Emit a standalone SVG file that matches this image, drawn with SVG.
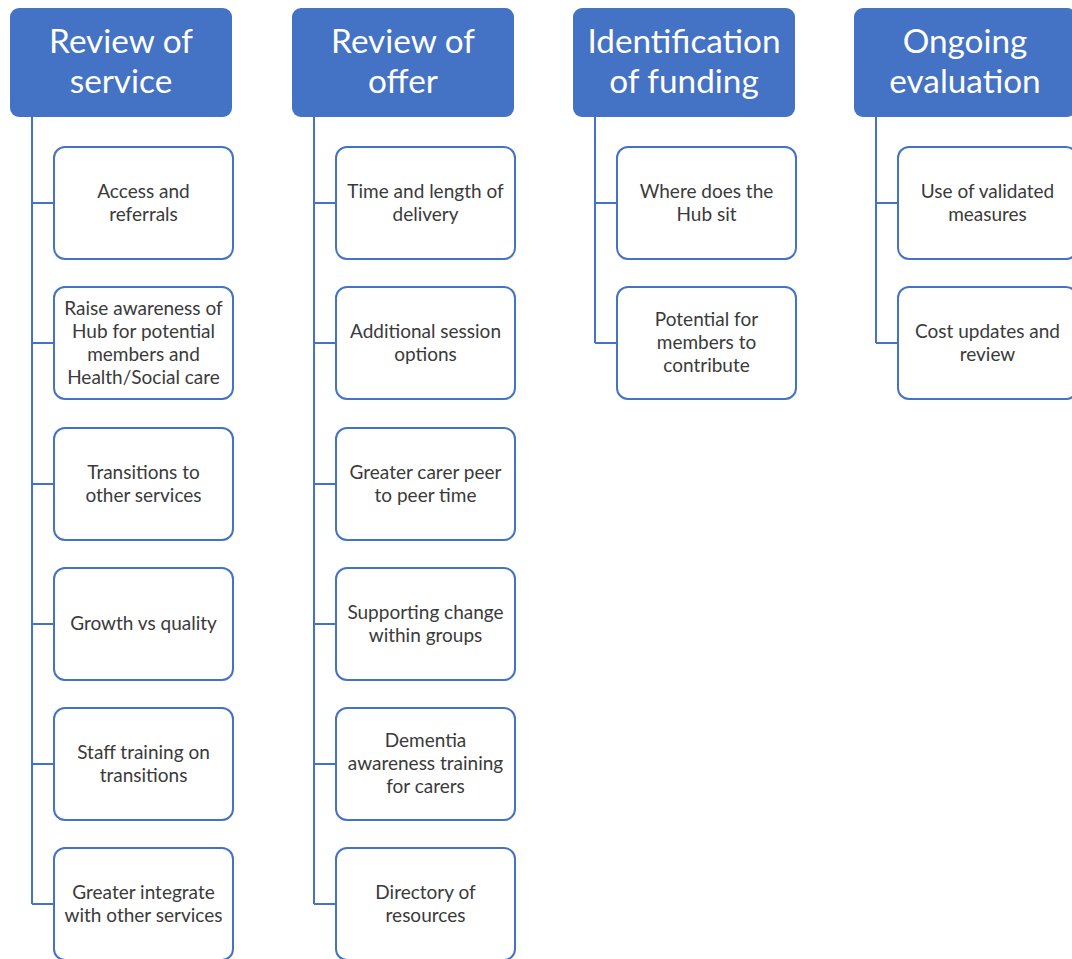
<svg xmlns="http://www.w3.org/2000/svg" width="1072" height="959" viewBox="0 0 1072 959">
<style>
.hdr{fill:#4472C4;}
.ht{font-family:Lato,"Open Sans","Liberation Sans",sans-serif;font-size:33.3px;fill:#ffffff;text-anchor:middle;}
.box{fill:#ffffff;stroke:#4472C4;stroke-width:2;}
.bt{font-family:Lato,"Open Sans","Liberation Sans",sans-serif;font-size:19px;fill:#3a3a3a;text-anchor:middle;}
.con{fill:none;stroke:#4472C4;stroke-width:2;}
</style>
<rect width="1072" height="959" fill="#ffffff"/>
<g id="connectors">
<path class="con" d="M32,117 V904 M32,203 H54 M32,343 H54 M32,484 H54 M32,624 H54 M32,764 H54 M32,904 H54"/>
<path class="con" d="M314,117 V904 M314,203 H336 M314,343 H336 M314,484 H336 M314,624 H336 M314,764 H336 M314,904 H336"/>
<path class="con" d="M595,117 V343 M595,203 H617 M595,343 H617"/>
<path class="con" d="M876,117 V343 M876,203 H898 M876,343 H898"/>
</g>
<g id="h1"><rect class="hdr" x="10" y="8" width="222" height="109" rx="9"/><text class="ht" x="121" y="53">Review of</text><text class="ht" x="121" y="93">service</text></g>
<g id="h2"><rect class="hdr" x="292" y="8" width="222" height="109" rx="9"/><text class="ht" x="403" y="53">Review of</text><text class="ht" x="403" y="93">offer</text></g>
<g id="h3"><rect class="hdr" x="573" y="8" width="222" height="109" rx="9"/><text class="ht" x="684" y="53">Identification</text><text class="ht" x="684" y="93">of funding</text></g>
<g id="h4"><rect class="hdr" x="854" y="8" width="222" height="109" rx="9"/><text class="ht" x="965" y="53">Ongoing</text><text class="ht" x="965" y="93">evaluation</text></g>

<g id="c1n1"><rect class="box" x="54" y="147" width="179" height="112" rx="11"/><text class="bt" x="143.5" y="198">Access and</text><text class="bt" x="143.5" y="221">referrals</text></g>
<g id="c1n2"><rect class="box" x="54" y="287" width="179" height="112" rx="11"/><text class="bt" x="143.5" y="315">Raise awareness of</text><text class="bt" x="143.5" y="338">Hub for potential</text><text class="bt" x="143.5" y="361">members and</text><text class="bt" x="143.5" y="384">Health/Social care</text></g>
<g id="c1n3"><rect class="box" x="54" y="428" width="179" height="112" rx="11"/><text class="bt" x="143.5" y="479">Transitions to</text><text class="bt" x="143.5" y="502">other services</text></g>
<g id="c1n4"><rect class="box" x="54" y="568" width="179" height="112" rx="11"/><text class="bt" x="143.5" y="630">Growth vs quality</text></g>
<g id="c1n5"><rect class="box" x="54" y="708" width="179" height="112" rx="11"/><text class="bt" x="143.5" y="759">Staff training on</text><text class="bt" x="143.5" y="782">transitions</text></g>
<g id="c1n6"><rect class="box" x="54" y="848" width="179" height="112" rx="11"/><text class="bt" x="143.5" y="899">Greater integrate</text><text class="bt" x="143.5" y="922">with other services</text></g>

<g id="c2n1"><rect class="box" x="336" y="147" width="179" height="112" rx="11"/><text class="bt" x="425.5" y="198">Time and length of</text><text class="bt" x="425.5" y="221">delivery</text></g>
<g id="c2n2"><rect class="box" x="336" y="287" width="179" height="112" rx="11"/><text class="bt" x="425.5" y="338">Additional session</text><text class="bt" x="425.5" y="361">options</text></g>
<g id="c2n3"><rect class="box" x="336" y="428" width="179" height="112" rx="11"/><text class="bt" x="425.5" y="479">Greater carer peer</text><text class="bt" x="425.5" y="502">to peer time</text></g>
<g id="c2n4"><rect class="box" x="336" y="568" width="179" height="112" rx="11"/><text class="bt" x="425.5" y="619">Supporting change</text><text class="bt" x="425.5" y="642">within groups</text></g>
<g id="c2n5"><rect class="box" x="336" y="708" width="179" height="112" rx="11"/><text class="bt" x="425.5" y="747">Dementia</text><text class="bt" x="425.5" y="770">awareness training</text><text class="bt" x="425.5" y="793">for carers</text></g>
<g id="c2n6"><rect class="box" x="336" y="848" width="179" height="112" rx="11"/><text class="bt" x="425.5" y="899">Directory of</text><text class="bt" x="425.5" y="922">resources</text></g>

<g id="c3n1"><rect class="box" x="617" y="147" width="179" height="112" rx="11"/><text class="bt" x="706.5" y="198">Where does the</text><text class="bt" x="706.5" y="221">Hub sit</text></g>
<g id="c3n2"><rect class="box" x="617" y="287" width="179" height="112" rx="11"/><text class="bt" x="706.5" y="326">Potential for</text><text class="bt" x="706.5" y="349">members to</text><text class="bt" x="706.5" y="372">contribute</text></g>

<g id="c4n1"><rect class="box" x="898" y="147" width="179" height="112" rx="11"/><text class="bt" x="987.5" y="198">Use of validated</text><text class="bt" x="987.5" y="221">measures</text></g>
<g id="c4n2"><rect class="box" x="898" y="287" width="179" height="112" rx="11"/><text class="bt" x="987.5" y="338">Cost updates and</text><text class="bt" x="987.5" y="361">review</text></g>
</svg>
